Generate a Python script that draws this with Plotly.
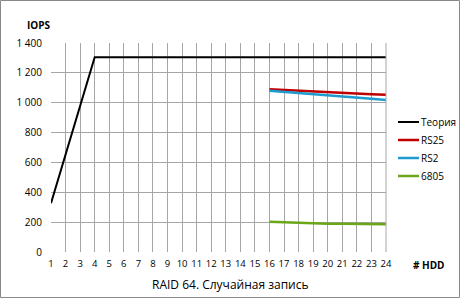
import plotly.graph_objects as go

hdd = list(range(1, 25))
theory_x = [1, 2, 3, 4] + list(range(5, 25))
theory_y = [326, 653, 979, 1305] + [1305] * 20
rs_x = list(range(16, 25))
rs25 = [1090, 1085, 1080, 1075, 1069, 1064, 1060, 1057, 1054]
rs2 = [1080, 1073, 1065, 1057, 1049, 1041, 1034, 1026, 1018]
x6805 = [203, 199, 195, 192, 190, 189, 188, 187, 186]

series_names = ["Теория", "RS25", "RS2", "6805"]
series_colors = ["black", "#c00000", "#1f9bd1", "#6aa618"]

ytickvals = [0, 200, 400, 600, 800, 1000, 1200, 1400]
yticktext = ["0", "200", "400", "600", "800", "1 000", "1 200", "1 400"]

W, H = 460, 298
L, R, T, B = 51, 74, 43, 46
pw, ph = W - L - R, H - T - B


def px(x):
    return (x - L) / pw


def py(y):
    return (H - B - y) / ph


fig = go.Figure()
data = [(theory_x, theory_y), (rs_x, rs25), (rs_x, rs2), (rs_x, x6805)]
for (xs, ys), n, c in zip(data, series_names, series_colors):
    fig.add_trace(go.Scatter(x=xs, y=ys, mode="lines", name=n,
                             line=dict(color=c, width=2 if c == "black" else 2.5)))

shapes = [dict(type="rect", xref="paper", yref="paper",
               x0=px(0.5), x1=px(W - 0.5), y0=py(H - 0.5), y1=py(0.5),
               line=dict(color="#888888", width=1)),
          dict(type="line", xref="paper", yref="paper", x0=1, x1=1, y0=0, y1=1,
               line=dict(color="#a6a6a6", width=1))]
annotations = [
    dict(text="<b>IOPS</b>", xref="paper", yref="paper",
         x=px(25), y=py(25), xanchor="left", yanchor="middle",
         showarrow=False, font=dict(size=10)),
    dict(text="<b># HDD</b>", xref="paper", yref="paper",
         x=px(411), y=py(265), xanchor="left", yanchor="middle",
         showarrow=False, font=dict(size=10)),
    dict(text="RAID 64. Случайная запись", xref="paper", yref="paper",
         x=px(230), y=py(284), xanchor="center", yanchor="middle",
         showarrow=False, font=dict(size=12)),
]
for i, (n, c) in enumerate(zip(series_names, series_colors)):
    yy = 122 + 18 * i
    shapes.append(dict(type="line", xref="paper", yref="paper",
                       x0=px(398), x1=px(419), y0=py(yy), y1=py(yy),
                       line=dict(color=c, width=2 if c == "black" else 2.5)))
    annotations.append(dict(text=n, xref="paper", yref="paper",
                            x=px(419), y=py(yy), xanchor="left", yanchor="middle",
                            showarrow=False, font=dict(size=10)))

font = "Open Sans, Noto Sans, sans-serif"
fig.update_layout(
    width=W, height=H,
    margin=dict(l=L, r=R, t=T, b=B, autoexpand=False),
    paper_bgcolor="white", plot_bgcolor="white",
    font=dict(family=font, size=10, color="black"),
    showlegend=False,
    xaxis=dict(range=[1, 24], tickmode="array", tickvals=hdd,
               ticktext=[str(v) for v in hdd], tickangle=0,
               showgrid=True, gridcolor="#a6a6a6", gridwidth=1,
               zeroline=False, showline=False, ticks="", ticklabelstandoff=4,
               tickfont=dict(size=9.5), fixedrange=True, automargin=False),
    yaxis=dict(range=[0, 1400], tickmode="array", tickvals=ytickvals,
               ticktext=yticktext,
               showgrid=True, gridcolor="#a6a6a6", gridwidth=1,
               zeroline=False, showline=False, ticks="", ticklabelstandoff=8,
               tickfont=dict(size=10), fixedrange=True, automargin=False),
    shapes=shapes,
    annotations=annotations,
)
fig.write_html("out.html")
